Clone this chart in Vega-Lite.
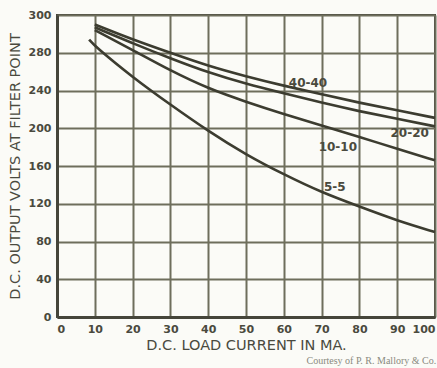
{
  "$schema": "https://vega.github.io/schema/vega-lite/v6.json",
  "autosize": {"type": "none"},
  "width": 378,
  "height": 302,
  "padding": {"left": 57, "top": 15, "right": 2, "bottom": 51},
  "background": "#fbfbf7",
  "config": {
    "view": {"stroke": "#45453a", "strokeWidth": 2},
    "axis": {
      "labelFont": "DejaVu Sans",
      "labelFontWeight": "bold",
      "labelFontSize": 11,
      "labelColor": "#4a4a3e",
      "labelOverlap": false,
      "titleFont": "DejaVu Sans",
      "titleFontWeight": "normal",
      "titleFontSize": 14.5,
      "titleColor": "#4a4a3e",
      "grid": true,
      "gridColor": "#6e6e5c",
      "gridWidth": 2,
      "gridOpacity": 1,
      "ticks": false,
      "domainColor": "#45453a",
      "domainWidth": 3
    }
  },
  "title": {
    "text": "Courtesy of P. R. Mallory & Co.",
    "orient": "bottom",
    "anchor": "end",
    "font": "Liberation Serif",
    "fontSize": 10,
    "fontWeight": "normal",
    "color": "#8a8a80",
    "offset": 4,
    "dx": -4
  },
  "datasets": {
    "curves": [
      {"ma": 10, "v": 310, "curve": "40-40"},
      {"ma": 20, "v": 294, "curve": "40-40"},
      {"ma": 30, "v": 280, "curve": "40-40"},
      {"ma": 40, "v": 266, "curve": "40-40"},
      {"ma": 50, "v": 255, "curve": "40-40"},
      {"ma": 60, "v": 245, "curve": "40-40"},
      {"ma": 70, "v": 236, "curve": "40-40"},
      {"ma": 80, "v": 227, "curve": "40-40"},
      {"ma": 90, "v": 219, "curve": "40-40"},
      {"ma": 100, "v": 211, "curve": "40-40"},
      {"ma": 10, "v": 307, "curve": "20-20"},
      {"ma": 20, "v": 290, "curve": "20-20"},
      {"ma": 30, "v": 274, "curve": "20-20"},
      {"ma": 40, "v": 259, "curve": "20-20"},
      {"ma": 50, "v": 247, "curve": "20-20"},
      {"ma": 60, "v": 237, "curve": "20-20"},
      {"ma": 70, "v": 227, "curve": "20-20"},
      {"ma": 80, "v": 218, "curve": "20-20"},
      {"ma": 90, "v": 210, "curve": "20-20"},
      {"ma": 100, "v": 202, "curve": "20-20"},
      {"ma": 10, "v": 304, "curve": "10-10"},
      {"ma": 20, "v": 283, "curve": "10-10"},
      {"ma": 30, "v": 261, "curve": "10-10"},
      {"ma": 40, "v": 242, "curve": "10-10"},
      {"ma": 50, "v": 228, "curve": "10-10"},
      {"ma": 60, "v": 215, "curve": "10-10"},
      {"ma": 70, "v": 203, "curve": "10-10"},
      {"ma": 80, "v": 191, "curve": "10-10"},
      {"ma": 90, "v": 178, "curve": "10-10"},
      {"ma": 100, "v": 166, "curve": "10-10"},
      {"ma": 8.5, "v": 294, "curve": "5-5"},
      {"ma": 10, "v": 287, "curve": "5-5"},
      {"ma": 20, "v": 254, "curve": "5-5"},
      {"ma": 30, "v": 225, "curve": "5-5"},
      {"ma": 40, "v": 197, "curve": "5-5"},
      {"ma": 50, "v": 172, "curve": "5-5"},
      {"ma": 60, "v": 151, "curve": "5-5"},
      {"ma": 70, "v": 132, "curve": "5-5"},
      {"ma": 80, "v": 117, "curve": "5-5"},
      {"ma": 90, "v": 102, "curve": "5-5"},
      {"ma": 100, "v": 90, "curve": "5-5"}
    ],
    "labels": [
      {"ma": 66.4, "v": 248, "label": "40-40"},
      {"ma": 93.3, "v": 195, "label": "20-20"},
      {"ma": 74.3, "v": 180, "label": "10-10"},
      {"ma": 73.5, "v": 138, "label": "5-5"}
    ]
  },
  "encoding": {
    "x": {
      "field": "ma", "type": "quantitative",
      "scale": {"domain": [0, 100], "nice": false},
      "axis": {
        "values": [0, 10, 20, 30, 40, 50, 60, 70, 80, 90, 100],
        "labelPadding": 6,
        "title": "D.C. LOAD CURRENT IN MA.",
        "titlePadding": 4
      }
    },
    "y": {
      "field": "v", "type": "quantitative",
      "scale": {"domain": [0, 320], "nice": false},
      "axis": {
        "values": [0, 40, 80, 120, 160, 200, 240, 280, 320],
        "labelExpr": "datum.value == 320 ? '300' : datum.label",
        "labelPadding": 6,
        "title": "D.C. OUTPUT VOLTS AT FILTER POINT",
        "titlePadding": 6
      }
    }
  },
  "layer": [
    {
      "data": {"name": "curves"},
      "mark": {"type": "line", "interpolate": "basis", "strokeWidth": 2.6, "color": "#3c3c30"},
      "encoding": {
        "detail": {"field": "curve"}
      }
    },
    {
      "data": {"name": "labels"},
      "mark": {"type": "text", "font": "DejaVu Sans", "fontWeight": "bold", "fontSize": 12, "color": "#4a4a3e"},
      "encoding": {
        "text": {"field": "label"}
      }
    }
  ]
}
